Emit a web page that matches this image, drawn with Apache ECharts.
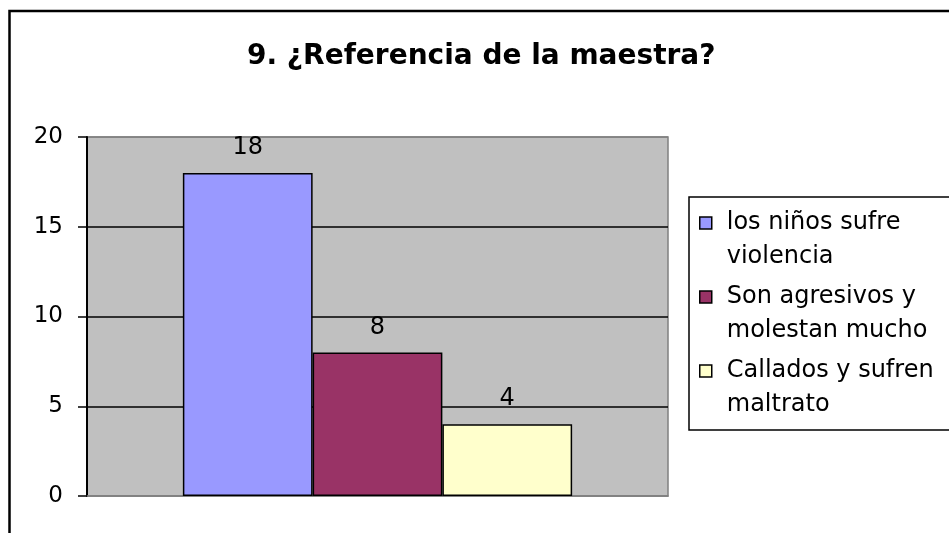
<!DOCTYPE html>
<html>
<head>
<meta charset="utf-8">
<script src="https://cdn.jsdelivr.net/npm/echarts@6/dist/echarts.min.js"></script>
<style>
  html, body { margin: 0; padding: 0; background: #fff; }
  #chart { width: 949px; height: 533px; }
</style>
</head>
<body>
<div id="chart"></div>
<script>
// 9. ¿Referencia de la maestra?
var titleText = "9. ¿Referencia de la maestra?";
var categories = [""];
var seriesNames = ["los niños sufre violencia", "Son agresivos y molestan mucho", "Callados y sufren maltrato"];
var legendLabels = ["los niños sufre\nviolencia", "Son agresivos y\nmolestan mucho", "Callados y sufren\nmaltrato"];
var seriesValues = [[18], [8], [4]];
var seriesColors = ["#9999ff", "#993366", "#ffffcc"];
var yTicks = { min: 0, max: 20, interval: 5 };

var font = "DejaVu Sans";

var myChart = echarts.init(document.getElementById("chart"));

var series = seriesNames.map(function (name, i) {
  return {
    name: name,
    type: "bar",
    data: seriesValues[i],
    barGap: "0%",
    barCategoryGap: "33%",
    itemStyle: {
      color: seriesColors[i],
      borderColor: "#000000",
      borderWidth: 1.5
    },
    label: {
      show: true,
      position: "top",
      distance: 13,
      color: "#000000",
      fontFamily: font,
      fontSize: 24
    }
  };
});

myChart.setOption({
  animation: false,
  title: {
    text: titleText,
    left: 242,
    top: 38,
    textStyle: {
      fontFamily: font,
      fontSize: 28,
      fontWeight: "bold",
      color: "#000000"
    }
  },
  graphic: [
    {
      type: "rect",
      shape: { x: 9.5, y: 11, width: 980, height: 560 },
      style: { fill: "none", stroke: "#000000", lineWidth: 2.5 },
      silent: true
    }
  ],
  legend: {
    orient: "vertical",
    left: 689,
    top: 197,
    itemWidth: 22,
    itemHeight: 46,
    itemGap: 6,
    icon: "path://M0,0h12v12h-12zM22,46h0",
    padding: [9, 60, 8, 10],
    backgroundColor: "#ffffff",
    borderColor: "#000000",
    borderWidth: 1.5,
    borderRadius: 0,
    itemStyle: { borderColor: "#000000", borderWidth: 1.5 },
    data: seriesNames,
    formatter: function (name) {
      return legendLabels[seriesNames.indexOf(name)];
    },
    textStyle: {
      fontFamily: font,
      fontSize: 24,
      lineHeight: 34,
      color: "#000000"
    }
  },
  grid: {
    left: 87,
    top: 137,
    right: 281,
    bottom: 37,
    show: true,
    backgroundColor: "#c0c0c0",
    borderColor: "#808080",
    borderWidth: 1.5
  },
  xAxis: {
    type: "category",
    data: categories,
    axisLabel: { show: false },
    axisTick: { show: false },
    axisLine: { show: true, lineStyle: { color: "#808080", width: 1.5 } }
  },
  yAxis: {
    type: "value",
    min: yTicks.min,
    max: yTicks.max,
    interval: yTicks.interval,
    axisLine: { show: true, lineStyle: { color: "#000000", width: 2 } },
    axisTick: { show: true, length: 9, lineStyle: { color: "#000000", width: 1.5 } },
    splitLine: {
      show: true,
      lineStyle: { color: ["#808080", "#000000", "#000000", "#000000", "#808080"], width: 1.5 }
    },
    axisLabel: {
      color: "#000000",
      fontFamily: font,
      fontSize: 23,
      margin: 24
    }
  },
  series: series
});
</script>
</body>
</html>
